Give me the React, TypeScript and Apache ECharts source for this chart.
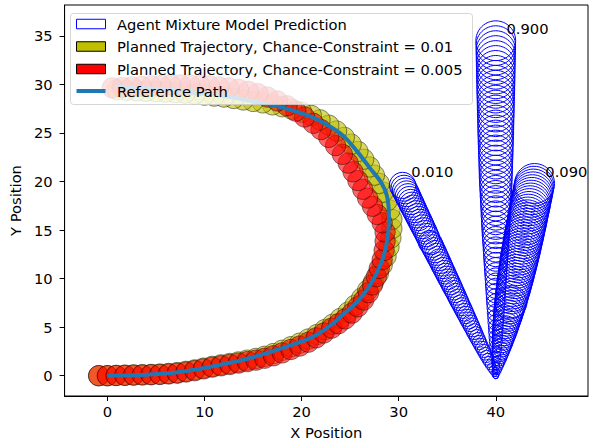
import React, { useEffect, useRef } from "react";
import * as echarts from "echarts";

// ---------- data ----------
const xTicks = [0, 10, 20, 30, 40];
const yTicks = [0, 5, 10, 15, 20, 25, 30, 35];

const legendLabels = [
  "Agent Mixture Model Prediction",
  "Planned Trajectory, Chance-Constraint = 0.01",
  "Planned Trajectory, Chance-Constraint = 0.005",
  "Reference Path",
];

const modeLabels = ["0.010", "0.900", "0.090"];
const modeLabelX = [31.3, 41.1, 45.1];
const modeLabelY = [20.3, 34.95, 20.3];

// mode 0.010
const mode010X = [
  40.0, 39.86, 39.72, 39.58, 39.44, 39.3, 39.17, 39.03, 38.89, 38.75,
  38.61, 38.47, 38.33, 38.19, 38.05, 37.91, 37.77, 37.64, 37.5, 37.36,
  37.22, 37.08, 36.94, 36.8, 36.66, 36.52, 36.38, 36.24, 36.1, 35.97,
  35.83, 35.69, 35.55, 35.41, 35.27, 35.13, 34.99, 34.85, 34.71, 34.57,
  34.43, 34.3, 34.16, 34.02, 33.88, 33.74, 33.6, 33.46, 33.32, 33.18,
  33.04, 32.9, 32.77, 32.63, 32.49, 32.35, 32.21, 32.07, 31.93, 31.79,
  31.65, 31.51, 31.37, 31.24, 31.1, 30.96, 30.82, 30.68, 30.54, 30.4,
];
const mode010Y = [
  0, 0.28, 0.57, 0.85, 1.14, 1.42, 1.7, 1.99, 2.27, 2.56,
  2.84, 3.12, 3.41, 3.69, 3.98, 4.26, 4.54, 4.83, 5.11, 5.4,
  5.68, 5.96, 6.25, 6.53, 6.82, 7.1, 7.38, 7.67, 7.95, 8.24,
  8.52, 8.8, 9.09, 9.37, 9.66, 9.94, 10.22, 10.51, 10.79, 11.08,
  11.36, 11.64, 11.93, 12.21, 12.5, 12.78, 13.06, 13.35, 13.63, 13.92,
  14.2, 14.48, 14.77, 15.05, 15.34, 15.62, 15.9, 16.19, 16.47, 16.76,
  17.04, 17.32, 17.61, 17.89, 18.18, 18.46, 18.74, 19.03, 19.31, 19.6,
];
const mode010R = [
  0.3, 0.36, 0.42, 0.47, 0.52, 0.56, 0.6, 0.63, 0.66, 0.68,
  0.7, 0.72, 0.74, 0.76, 0.77, 0.79, 0.81, 0.82, 0.84, 0.85,
  0.87, 0.88, 0.89, 0.91, 0.92, 0.93, 0.94, 0.96, 0.97, 0.98,
  0.99, 1.0, 1.02, 1.03, 1.04, 1.05, 1.06, 1.07, 1.08, 1.09,
  1.1, 1.11, 1.12, 1.13, 1.14, 1.15, 1.16, 1.17, 1.18, 1.18,
  1.19, 1.2, 1.21, 1.22, 1.23, 1.24, 1.25, 1.25, 1.26, 1.27,
  1.28, 1.29, 1.3, 1.3, 1.31, 1.32, 1.33, 1.33, 1.34, 1.35,
];

// mode 0.900
const mode900X = [
  40, 40, 40, 40, 40, 40, 40, 40, 40, 40,
  40, 40, 40, 40, 40, 40, 40, 40, 40, 40,
  40, 40, 40, 40, 40, 40, 40, 40, 40, 40,
  40, 40, 40, 40, 40, 40, 40, 40, 40, 40,
  40, 40, 40, 40, 40, 40, 40, 40, 40, 40,
  40, 40, 40, 40, 40, 40, 40, 40, 40, 40,
  40, 40, 40, 40, 40, 40, 40, 40, 40, 40,
];
const mode900Y = [
  0, 0.5, 1, 1.5, 2, 2.5, 3, 3.5, 4, 4.5,
  5, 5.5, 6, 6.5, 7, 7.5, 8, 8.5, 9, 9.5,
  10, 10.5, 11, 11.5, 12, 12.5, 13, 13.5, 14, 14.5,
  15, 15.5, 16, 16.5, 17, 17.5, 18, 18.5, 19, 19.5,
  20, 20.5, 21, 21.5, 22, 22.5, 23, 23.5, 24, 24.5,
  25, 25.5, 26, 26.5, 27, 27.5, 28, 28.5, 29, 29.5,
  30, 30.5, 31, 31.5, 32, 32.5, 33, 33.5, 34, 34.5,
];
const mode900R = [
  0.3, 0.36, 0.41, 0.46, 0.52, 0.57, 0.62, 0.66, 0.69, 0.73,
  0.76, 0.8, 0.83, 0.87, 0.9, 0.94, 0.97, 1.0, 1.04, 1.07,
  1.1, 1.14, 1.17, 1.2, 1.24, 1.27, 1.3, 1.33, 1.37, 1.4,
  1.43, 1.46, 1.48, 1.51, 1.53, 1.56, 1.58, 1.61, 1.63, 1.66,
  1.68, 1.7, 1.71, 1.73, 1.74, 1.76, 1.78, 1.79, 1.81, 1.82,
  1.84, 1.85, 1.86, 1.87, 1.89, 1.9, 1.91, 1.92, 1.94, 1.95,
  1.96, 1.97, 1.98, 1.99, 2.0, 2.01, 2.02, 2.03, 2.04, 2.05,
];

// mode 0.090
const mode090X = [
  40.0, 40.06, 40.12, 40.17, 40.23, 40.29, 40.35, 40.41, 40.46, 40.52,
  40.58, 40.64, 40.7, 40.75, 40.81, 40.87, 40.93, 40.99, 41.04, 41.1,
  41.16, 41.22, 41.28, 41.33, 41.39, 41.45, 41.51, 41.57, 41.62, 41.68,
  41.74, 41.8, 41.86, 41.91, 41.97, 42.03, 42.09, 42.14, 42.2, 42.26,
  42.32, 42.38, 42.43, 42.49, 42.55, 42.61, 42.67, 42.72, 42.78, 42.84,
  42.9, 42.96, 43.01, 43.07, 43.13, 43.19, 43.25, 43.3, 43.36, 43.42,
  43.48, 43.54, 43.59, 43.65, 43.71, 43.77, 43.83, 43.88, 43.94, 44.0,
];
const mode090Y = [
  0, 0.29, 0.57, 0.86, 1.15, 1.43, 1.72, 2.01, 2.3, 2.58,
  2.87, 3.16, 3.44, 3.73, 4.02, 4.3, 4.59, 4.88, 5.17, 5.45,
  5.74, 6.03, 6.31, 6.6, 6.89, 7.17, 7.46, 7.75, 8.04, 8.32,
  8.61, 8.9, 9.18, 9.47, 9.76, 10.04, 10.33, 10.62, 10.91, 11.19,
  11.48, 11.77, 12.05, 12.34, 12.63, 12.91, 13.2, 13.49, 13.78, 14.06,
  14.35, 14.64, 14.92, 15.21, 15.5, 15.78, 16.07, 16.36, 16.65, 16.93,
  17.22, 17.51, 17.79, 18.08, 18.37, 18.65, 18.94, 19.23, 19.52, 19.8,
];
const mode090R = [
  0.3, 0.38, 0.45, 0.52, 0.59, 0.65, 0.72, 0.78, 0.84, 0.9,
  0.95, 1.01, 1.06, 1.11, 1.16, 1.21, 1.26, 1.3, 1.34, 1.38,
  1.42, 1.46, 1.5, 1.53, 1.57, 1.6, 1.63, 1.65, 1.68, 1.71,
  1.73, 1.76, 1.78, 1.8, 1.82, 1.84, 1.86, 1.87, 1.89, 1.91,
  1.92, 1.93, 1.95, 1.96, 1.97, 1.98, 1.99, 1.99, 2.0, 2.01,
  2.01, 2.02, 2.02, 2.03, 2.03, 2.04, 2.04, 2.04, 2.04, 2.04,
  2.05, 2.05, 2.05, 2.05, 2.05, 2.05, 2.05, 2.05, 2.05, 2.05,
];

// planned trajectory, chance-constraint = 0.01 (yellow)
const traj001: [number, number][] = [
  [-0.9, 0.0], [0.0, 0.0], [0.9, 0.03], [1.8, 0.05], [2.7, 0.08], [3.6, 0.1],
  [4.5, 0.13], [5.4, 0.17], [6.3, 0.23], [7.2, 0.32], [8.1, 0.45], [9.0, 0.6],
  [9.9, 0.78], [10.8, 0.96], [11.7, 1.12], [12.6, 1.26], [13.5, 1.42], [14.4, 1.6],
  [15.3, 1.78], [16.2, 2.0], [17.1, 2.28], [18.0, 2.62], [18.9, 2.98], [19.8, 3.35],
  [20.7, 3.78], [21.6, 4.25], [22.4, 4.75], [23.2, 5.3], [24.0, 5.9], [24.8, 6.55],
  [25.5, 7.25], [26.2, 8.0], [26.8, 8.8], [27.4, 9.65], [27.9, 10.5], [28.3, 11.4],
  [28.7, 12.3], [29.0, 13.25], [29.2, 14.2], [29.3, 15.15], [29.3, 16.1], [29.1, 17.05],
  [28.8, 18.0], [28.4, 18.9], [28.0, 19.8], [27.5, 20.65], [27.0, 21.5], [26.4, 22.3],
  [25.8, 23.1], [25.1, 23.85], [24.4, 24.55], [23.6, 25.2], [22.8, 25.8], [21.9, 26.35],
  [21.0, 26.8], [20.0, 27.15], [19.0, 27.45], [18.0, 27.7], [17.0, 27.9], [16.0, 28.1],
  [15.0, 28.25], [14.0, 28.4], [13.0, 28.55], [12.0, 28.7], [11.0, 28.8], [10.0, 28.9],
  [9.0, 29.0], [8.0, 29.1], [7.0, 29.15], [6.0, 29.2], [5.0, 29.25], [4.0, 29.3],
  [3.0, 29.35], [2.0, 29.4], [1.0, 29.45],
];
const traj001Radius = 1.05;

// planned trajectory, chance-constraint = 0.005 (red)
const traj005: [number, number][] = [
  [-0.9, 0.0], [0.0, 0.0], [0.9, 0.02], [1.8, 0.04], [2.7, 0.06], [3.6, 0.08],
  [4.5, 0.1], [5.4, 0.13], [6.3, 0.18], [7.2, 0.26], [8.1, 0.38], [9.0, 0.52],
  [9.9, 0.7], [10.8, 0.88], [11.7, 1.02], [12.6, 1.15], [13.5, 1.3], [14.4, 1.45],
  [15.3, 1.6], [16.2, 1.8], [17.1, 2.05], [18.0, 2.35], [18.9, 2.7], [19.8, 3.05],
  [20.7, 3.45], [21.5, 3.9], [22.3, 4.4], [23.1, 4.9], [23.8, 5.35], [24.5, 5.85],
  [25.2, 6.45], [25.8, 7.1], [26.4, 7.8], [26.9, 8.55], [27.3, 9.35], [27.7, 10.2],
  [28.0, 11.05], [28.3, 11.95], [28.5, 12.9], [28.6, 13.85], [28.6, 14.8], [28.3, 15.75],
  [27.8, 16.6], [27.3, 17.45], [26.8, 18.3], [26.3, 19.2], [25.8, 20.1], [25.3, 21.0],
  [24.8, 21.9], [24.2, 22.8], [23.5, 23.7], [22.8, 24.55], [22.0, 25.35], [21.2, 26.0],
  [20.3, 26.65], [19.4, 27.25], [18.5, 27.8], [17.5, 28.3], [16.5, 28.7], [15.5, 29.05],
  [14.5, 29.3], [13.5, 29.5], [12.5, 29.65], [11.5, 29.75], [10.5, 29.85], [9.5, 29.9],
  [8.5, 29.95], [7.5, 29.95], [6.5, 29.95], [5.5, 29.9], [4.5, 29.85], [3.5, 29.8],
  [2.5, 29.75], [1.5, 29.7], [0.5, 29.65],
];
const traj005Radius = 1.05;

// reference path
const refPath: [number, number][] = [
  [0, 0], [2, 0.03], [4, 0.1], [6, 0.22], [8, 0.45], [10, 0.8], [12, 1.2],
  [14, 1.65], [16, 2.2], [18, 2.85], [20, 3.5], [21.5, 4.2], [23, 5.2],
  [24.5, 6.5], [25.8, 7.7], [26.9, 9.1], [27.8, 10.7], [28.5, 12.5], [28.9, 14.5],
  [29.0, 16.3], [28.8, 18.5], [28.2, 19.9], [27.1, 21.3], [25.8, 23.0], [24.3, 24.7],
  [22.7, 25.8], [20.9, 26.7], [18.5, 27.5], [15.8, 28.1], [12, 28.8], [8, 29.3],
  [4, 29.6], [0.8, 29.8],
];

// ---------- helpers ----------
const FONT = '"DejaVu Sans", sans-serif';
const FS = 14.7;

function zipMode(xs: number[], ys: number[], rs: number[]) {
  const n = Math.min(xs.length, ys.length, rs.length);
  const out: number[][] = [];
  for (let i = 0; i < n; i++) out.push([xs[i], ys[i], rs[i]]);
  return out;
}

function circleSeries(name: string, data: number[][], fill: string, stroke: string, lw: number) {
  return {
    type: "custom",
    name,
    coordinateSystem: "cartesian2d",
    silent: true,
    data,
    encode: { x: 0, y: 1 },
    renderItem: (params: any, api: any) => {
      const c = api.coord([api.value(0), api.value(1)]);
      const s = api.size([api.value(2), api.value(2)]);
      return {
        type: "circle",
        shape: { cx: c[0], cy: c[1], r: s[0] },
        style: { fill, stroke, lineWidth: lw },
      };
    },
  };
}

export default function App() {
  const ref = useRef<HTMLDivElement>(null);

  useEffect(() => {
    if (!ref.current) return;
    const chart = echarts.init(ref.current, undefined, { renderer: "svg" });

    const r001 = traj001.map((p) => [p[0], p[1], traj001Radius]);
    const r005 = traj005.map((p) => [p[0], p[1], traj005Radius]);
    const labelData = modeLabels.map((_, i) => [modeLabelX[i], modeLabelY[i]]);

    const legendTop = 13.5;
    const rowY = [24, 46.5, 69, 91];
    const hx = 76.5;
    const hw = 29;
    const hh = 9.5;

    const option: any = {
      animation: false,
      grid: {
        left: 63,
        right: 1,
        top: 5,
        bottom: 47,
        show: true,
        borderColor: "#000",
        borderWidth: 1,
        backgroundColor: "transparent",
      },
      xAxis: {
        type: "value",
        min: -4.41,
        max: 49.5,
        name: "X Position",
        nameLocation: "middle",
        nameGap: 29,
        nameTextStyle: { fontFamily: FONT, fontSize: FS, color: "#000" },
        axisLine: { show: true, onZero: false, lineStyle: { color: "#000", width: 1 } },
        axisTick: { show: true, length: 5, lineStyle: { color: "#000", width: 1 }, customValues: xTicks },
        axisLabel: { customValues: xTicks, fontFamily: FONT, fontSize: FS, color: "#000", margin: 8 },
        splitLine: { show: false },
      },
      yAxis: {
        type: "value",
        min: -2.09,
        max: 38.18,
        name: "Y Position",
        nameLocation: "middle",
        nameGap: 37,
        nameTextStyle: { fontFamily: FONT, fontSize: FS, color: "#000" },
        axisLine: { show: true, onZero: false, lineStyle: { color: "#000", width: 1 } },
        axisTick: { show: true, length: 5, lineStyle: { color: "#000", width: 1 }, customValues: yTicks },
        axisLabel: { customValues: yTicks, fontFamily: FONT, fontSize: FS, color: "#000", margin: 12 },
        splitLine: { show: false },
      },
      series: [
        circleSeries(legendLabels[1], r001, "rgba(191,191,0,0.6)", "rgba(0,0,0,0.45)", 1),
        circleSeries(legendLabels[2], r005, "rgba(255,0,0,0.6)", "rgba(0,0,0,0.45)", 1),
        circleSeries(legendLabels[0], zipMode(mode010X, mode010Y, mode010R), "none", "#0000ff", 1),
        circleSeries(legendLabels[0], zipMode(mode900X, mode900Y, mode900R), "none", "#0000ff", 1),
        circleSeries(legendLabels[0], zipMode(mode090X, mode090Y, mode090R), "none", "#0000ff", 1),
        {
          type: "line",
          name: legendLabels[3],
          data: refPath,
          showSymbol: false,
          smooth: 0.3,
          silent: true,
          lineStyle: { color: "#1f77b4", width: 4 },
        },
        {
          type: "custom",
          name: "labels",
          coordinateSystem: "cartesian2d",
          silent: true,
          data: labelData,
          encode: { x: 0, y: 1 },
          renderItem: (params: any, api: any) => {
            const c = api.coord([api.value(0), api.value(1)]);
            return {
              type: "text",
              x: c[0],
              y: c[1],
              style: {
                text: modeLabels[params.dataIndex],
                fill: "#000",
                font: `${FS}px ${FONT}`,
                align: "left",
                verticalAlign: "bottom",
              },
            };
          },
        },
      ],
      graphic: [
        {
          type: "rect",
          z: 100,
          shape: { x: 70.5, y: legendTop, width: 402, height: 91, r: 3 },
          style: { fill: "rgba(255,255,255,0.8)", stroke: "rgba(204,204,204,0.8)", lineWidth: 1 },
        },
        {
          type: "rect",
          z: 101,
          shape: { x: hx, y: rowY[0] - hh / 2, width: hw, height: hh },
          style: { fill: "#fff", stroke: "#0000ff", lineWidth: 1 },
        },
        {
          type: "rect",
          z: 101,
          shape: { x: hx, y: rowY[1] - hh / 2, width: hw, height: hh },
          style: { fill: "#bfbf00", stroke: "#000", lineWidth: 1 },
        },
        {
          type: "rect",
          z: 101,
          shape: { x: hx, y: rowY[2] - hh / 2, width: hw, height: hh },
          style: { fill: "#ff0000", stroke: "#000", lineWidth: 1 },
        },
        {
          type: "line",
          z: 101,
          shape: { x1: hx, y1: rowY[3], x2: hx + hw, y2: rowY[3] },
          style: { stroke: "#1f77b4", lineWidth: 4 },
        },
        ...legendLabels.map((t, i) => ({
          type: "text",
          z: 101,
          x: 117,
          y: rowY[i],
          style: { text: t, fill: "#000", font: `${FS}px ${FONT}`, verticalAlign: "middle", align: "left" },
        })),
      ],
    };

    chart.setOption(option);
    return () => chart.dispose();
  }, []);

  return (
    <div
      ref={ref}
      style={{ position: "fixed", left: 0, top: 0, width: 589, height: 445, background: "#fff" }}
    />
  );
}
